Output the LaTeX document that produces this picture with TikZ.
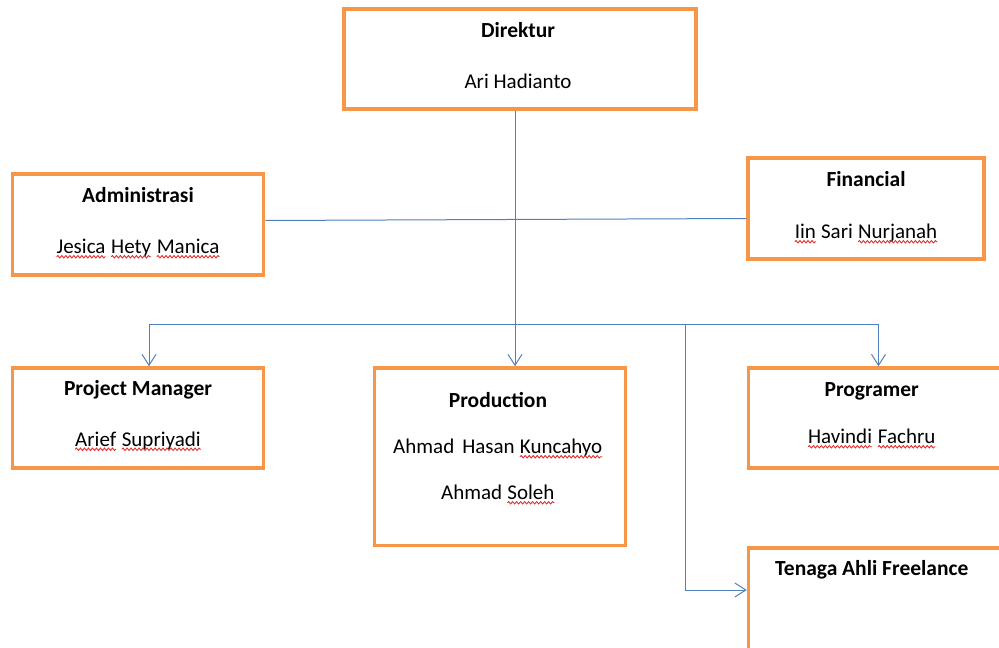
\documentclass[tikz,border=0pt]{standalone}
\usepackage{fontspec}
\setmainfont{Carlito}
\usetikzlibrary{arrows.meta,decorations.pathmorphing,calc}

\definecolor{boxorange}{HTML}{F79646}
\definecolor{linkblue}{HTML}{4F81BD}
\definecolor{typored}{HTML}{E03030}

\tikzset{
  box/.style={draw=boxorange, line width=3.5pt, fill=white, inner sep=0pt},
  title/.style={font=\fontsize{21.5}{23}\selectfont\bfseries, anchor=base, inner sep=0pt},
  person/.style={font=\fontsize{21}{23}\selectfont, anchor=base, inner sep=0pt},
  link/.style={draw=linkblue, line width=1pt},
  arrowlink/.style={link, -{Straight Barb[length=11pt,width=14pt]}},
  typoline/.style={draw=typored, line width=0.9pt, decorate,
    decoration={snake, amplitude=1.2pt, segment length=4pt}},
}

% word flagged with a red wavy underline
\newcommand\typo[1]{\tikz[baseline=(w.base)]{%
  \node[inner sep=0pt, outer sep=0pt, anchor=base] (w) {#1};%
  \draw[typoline] ([yshift=-3pt]w.base west) -- ([yshift=-3pt]w.base east);}}

\begin{document}
\begin{tikzpicture}[x=1pt, y=-1pt]
\useasboundingbox (0,0) rectangle (999,648);

% boxes
\node[box, minimum width=352pt, minimum height=100pt]  (dir)  at (520,59)     {};
\node[box, minimum width=251pt, minimum height=101pt]  (adm)  at (138,224.5)  {};
\node[box, minimum width=236pt, minimum height=101pt]  (fin)  at (866,208.5)  {};
\node[box, minimum width=251pt, minimum height=100pt]  (pm)   at (138,418)    {};
\node[box, minimum width=251pt, minimum height=177.5pt](prod) at (500,456.75) {};
\node[box, minimum width=252.5pt, minimum height=100pt](prog) at (874.75,418)  {};
\node[box, minimum width=252.5pt, minimum height=104pt](free) at (874.75,600)  {};

% texts
\node[title]  (dirT)  at ([xshift=-2pt,yshift=-30.5pt]dir.north)  {Direktur};
\node[person] (dirN)  at ([xshift=-2pt,yshift=-81pt]dir.north)  {Ari Hadianto};

\node[title]  (admT)  at ([yshift=-30.5pt]adm.north)  {Administrasi};
\node[person] (admN)  at ([yshift=-81.5pt]adm.north)  {\typo{Jesica} \typo{Hety} \typo{Manica}};

\node[title]  (finT)  at ([yshift=-30.5pt]fin.north)  {Financial};
\node[person] (finN)  at ([yshift=-82.5pt]fin.north)  {\typo{Iin} Sari \typo{Nurjanah}};

\node[title]  (pmT)   at ([yshift=-29.5pt]pm.north)   {Project Manager};
\node[person] (pmN)   at ([yshift=-80pt]pm.north)   {\typo{Arief} \typo{Supriyadi}};

\node[title]  (prodT) at ([xshift=-2pt,yshift=-41.5pt]prod.north) {Production};
\node[person] (prodA) at ([xshift=-2pt,yshift=-87.5pt]prod.north) {Ahmad\hspace{8pt}Hasan \typo{Kuncahyo}};
\node[person] (prodB) at ([xshift=-2pt,yshift=-133.5pt]prod.north) {Ahmad \typo{Soleh}};

\node[title]  (progT) at ([xshift=-3pt,yshift=-30.5pt]prog.north) {Programer};
\node[person] (progN) at ([xshift=-3pt,yshift=-77.5pt]prog.north) {\typo{Havindi}\hspace{5pt}\typo{Fachru}};

\node[title]  (freeT) at ([xshift=-3pt,yshift=-29.5pt]free.north) {Tenaga Ahli Freelance};

% connector junctions
\coordinate (trunk) at (515,324.5);
\coordinate (busL)  at (149,324.5);
\coordinate (busR)  at (878.5,324.5);
\coordinate (drop)  at (685,324.5);
\coordinate (elbow) at (685,590);

% connectors
\draw[link] ([yshift=4pt]adm.east) -- ([yshift=-10pt]fin.west);
\draw[arrowlink] (dir.south -| trunk) -- (prod.north -| trunk);
\draw[link] (busL) -- (busR);
\draw[arrowlink] (busL) -- (pm.north -| busL);
\draw[arrowlink] (busR) -- (prog.north -| busR);
\draw[arrowlink] (drop) -- (elbow) -- (elbow -| free.west);
\end{tikzpicture}
\end{document}
